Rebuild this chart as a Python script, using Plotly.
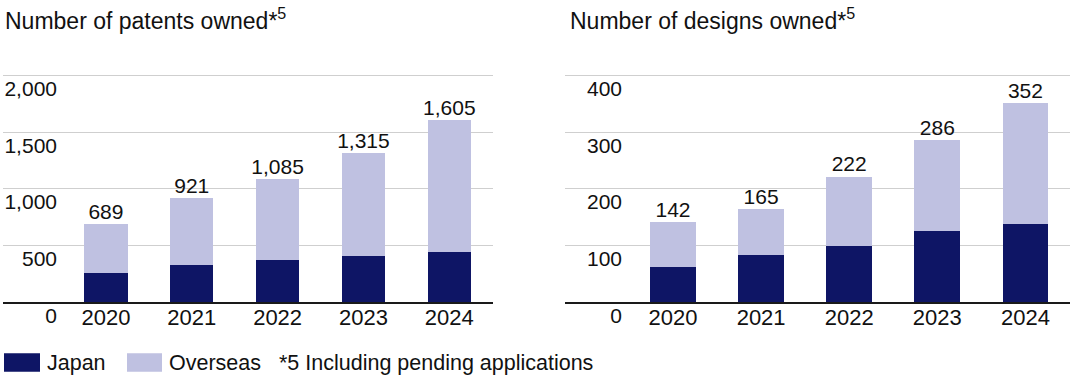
import plotly.graph_objects as go

W, H = 1075, 376

years = ["2020", "2021", "2022", "2023", "2024"]
patents_total = [689, 921, 1085, 1315, 1605]
patents_japan = [261, 329, 373, 409, 444]
designs_total = [142, 165, 222, 286, 352]
designs_japan = [62, 84, 100, 126, 138]

patent_ticks = [0, 500, 1000, 1500, 2000]
design_ticks = [0, 100, 200, 300, 400]

JAPAN = "#0e1565"
OVERSEAS = "#bfc1e1"
FONT = "Liberation Sans, Arial, sans-serif"
GRID = "#cfcfcf"

patents_overseas = [t - j for t, j in zip(patents_total, patents_japan)]
designs_overseas = [t - j for t, j in zip(designs_total, designs_japan)]

fig = go.Figure()

def add_panel(xa, ya, yl, japan, overseas, total, width):
    fig.add_trace(go.Bar(x=years, y=japan, name="Japan", marker_color=JAPAN,
                         width=width, xaxis=xa, yaxis=ya, showlegend=False,
                         marker_line_width=0))
    fig.add_trace(go.Bar(x=years, y=overseas, name="Overseas", marker_color=OVERSEAS,
                         width=width, xaxis=xa, yaxis=ya, showlegend=False,
                         marker_line_width=0))
    fig.add_trace(go.Scatter(x=years, y=total, mode="text",
                             text=[f"{v:,}" for v in total],
                             textposition="top center",
                             textfont=dict(size=21, color="#111", family=FONT),
                             xaxis=xa, yaxis=yl, showlegend=False, hoverinfo="skip"))

add_panel("x", "y", "y3", patents_japan, patents_overseas, patents_total, 0.503)
add_panel("x2", "y2", "y4", designs_japan, designs_overseas, designs_total, 0.52)

# plot area: value 0 at y=302.3 px, top tick at y=75.7 px; small headroom above top tick
ydom = [(H - 302.3) / H, (H - 73.4) / H]
prange = [0, 2020]
drange = [0, 404]

xcommon = dict(type="category", showgrid=False, zeroline=False, showline=True,
               linecolor="#1a1a1a", linewidth=1.5, ticks="",
               tickfont=dict(size=22, color="#111", family=FONT),
               ticklabelstandoff=-5, fixedrange=True, automargin=False)

ycommon = dict(showticklabels=False, showgrid=True, gridcolor=GRID, gridwidth=1,
               zeroline=False, showline=False, automargin=False)

ylab = dict(anchor="free", side="left", tickformat=",d", showgrid=False,
            zeroline=False, showline=False, ticks="", ticklabelshift=13,
            automargin=False, tickfont=dict(size=21, color="#111", family=FONT))

fig.update_layout(
    width=W, height=H,
    margin=dict(l=0, r=0, t=0, b=0, autoexpand=False),
    paper_bgcolor="white", plot_bgcolor="white",
    barmode="stack", bargap=0.5,
    font=dict(family=FONT, color="#111"),
    xaxis=dict(domain=[3 / W, 493 / W], range=[-1.199, 4.509], anchor="y", **xcommon),
    xaxis2=dict(domain=[565 / W, 1070 / W], range=[-1.226, 4.506], anchor="y2", **xcommon),
    yaxis=dict(domain=ydom, range=prange, anchor="x", tickvals=patent_ticks, **ycommon),
    yaxis2=dict(domain=ydom, range=drange, anchor="x2", tickvals=design_ticks, **ycommon),
    yaxis3=dict(overlaying="y", matches="y", range=prange, position=57 / W,
                tickvals=patent_ticks, **ylab),
    yaxis4=dict(overlaying="y2", matches="y2", range=drange, position=622 / W,
                tickvals=design_ticks, **ylab),
)

# Titles
title_font = dict(size=23, color="#111", family=FONT)
fig.add_annotation(text="Number of patents owned*<sup>5</sup>", xref="paper", yref="paper",
                   x=3 / W, y=(H - 19) / H, xanchor="left", yanchor="middle",
                   showarrow=False, font=title_font)
fig.add_annotation(text="Number of designs owned*<sup>5</sup>", xref="paper", yref="paper",
                   x=568 / W, y=(H - 19) / H, xanchor="left", yanchor="middle",
                   showarrow=False, font=title_font)

# Legend (manual)
leg_font = dict(size=21.5, color="#111", family=FONT)
y0, y1 = (H - 371.7) / H, (H - 353.3) / H
ymid = (H - 362.5) / H
for (xa, xb, color, label, tx) in [(4, 40, JAPAN, "Japan", 45), (127, 162, OVERSEAS, "Overseas", 167)]:
    fig.add_shape(type="rect", xref="paper", yref="paper", x0=xa / W, x1=xb / W,
                  y0=y0, y1=y1, fillcolor=color, line_width=0)
    fig.add_annotation(text=label, xref="paper", yref="paper", x=tx / W, y=ymid,
                       xanchor="left", yanchor="middle", showarrow=False, font=leg_font)
fig.add_annotation(text="*5 Including pending applications", xref="paper", yref="paper",
                   x=277 / W, y=ymid, xanchor="left", yanchor="middle",
                   showarrow=False, font=leg_font)

fig.write_html("out.html", config={"displayModeBar": False},
               post_script="document.body.style.margin='0';document.body.style.overflow='hidden';")
